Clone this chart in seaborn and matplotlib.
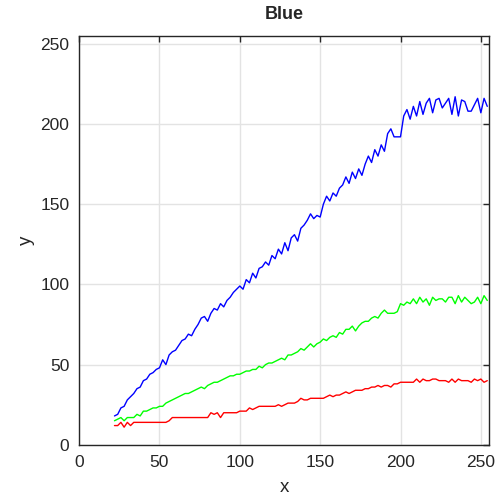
import matplotlib
matplotlib.use("Agg")
import matplotlib.pyplot as plt
import seaborn as sns

# x positions of the samples
x = list(range(22, 256, 2))

blue = [18, 19, 23, 24, 28, 30, 32, 35, 36, 40,
        41, 44, 45, 47, 48, 53, 50, 56, 58, 59,
        62, 65, 66, 69, 68, 72, 75, 79, 80, 77,
        82, 85, 84, 88, 86, 90, 92, 95, 97, 99,
        97, 103, 101, 107, 104, 110, 111, 114, 112, 118,
        116, 122, 119, 126, 121, 129, 131, 127, 135, 137,
        140, 144, 141, 143, 142, 150, 155, 152, 157, 155,
        160, 162, 167, 163, 170, 166, 172, 168, 175, 180,
        176, 184, 180, 187, 183, 194, 197, 192, 192, 192,
        205, 209, 203, 211, 205, 214, 206, 213, 216, 207,
        215, 216, 210, 213, 216, 206, 217, 205, 215, 214,
        208, 208, 212, 216, 207, 216, 211]

green = [15, 16, 17, 15, 17, 17, 17, 19, 18, 21,
         21, 22, 23, 23, 24, 24, 26, 27, 28, 29,
         30, 31, 32, 32, 33, 34, 35, 36, 35, 37,
         38, 39, 39, 40, 41, 42, 43, 43, 44, 44,
         45, 46, 46, 47, 47, 49, 48, 50, 51, 51,
         52, 53, 54, 53, 56, 56, 57, 58, 60, 59,
         61, 63, 61, 63, 64, 66, 65, 67, 68, 67,
         70, 69, 72, 72, 74, 71, 74, 76, 77, 77,
         79, 80, 79, 82, 84, 82, 82, 82, 83, 88,
         87, 89, 88, 91, 88, 92, 89, 91, 87, 92,
         90, 91, 91, 89, 92, 92, 88, 93, 89, 92,
         90, 88, 89, 92, 88, 93, 90]

red = [12, 12, 14, 11, 14, 12, 14, 14, 14, 14,
       14, 14, 14, 14, 14, 14, 14, 15, 17, 17,
       17, 17, 17, 17, 17, 17, 17, 17, 17, 17,
       20, 19, 20, 17, 20, 20, 20, 20, 20, 21,
       21, 21, 23, 22, 23, 24, 24, 24, 24, 24,
       24, 25, 24, 25, 26, 26, 26, 27, 29, 28,
       28, 29, 29, 29, 29, 29, 30, 31, 30, 31,
       31, 32, 33, 32, 33, 34, 34, 34, 35, 35,
       36, 36, 37, 36, 37, 37, 36, 38, 38, 39,
       39, 39, 39, 39, 41, 39, 41, 40, 40, 41,
       41, 40, 40, 40, 39, 41, 39, 41, 40, 40,
       40, 39, 41, 40, 41, 39, 40]

ticks = [0, 50, 100, 150, 200, 250]

sns.set_style("white")
plt.rcParams["font.family"] = ["Liberation Sans", "DejaVu Sans"]

fig = plt.figure(figsize=(5.04, 4.97), dpi=100)
ax = fig.add_axes([0.157, 0.105, 0.813, 0.823])

sns.lineplot(x=x, y=blue, color="#0000ff", lw=1, ax=ax)
sns.lineplot(x=x, y=green, color="#00ff00", lw=1, ax=ax)
sns.lineplot(x=x, y=red, color="#ff0000", lw=1, ax=ax)

ax.set_xlim(0, 255)
ax.set_ylim(0, 255)
ax.set_xticks(ticks)
ax.set_yticks(ticks)
ax.grid(True, color="#e3e3e3", lw=1)
ax.set_axisbelow(True)
ax.tick_params(direction="in", top=True, right=True, length=4, width=1,
               labelsize=12.5, colors="#262626", pad=7)
for s in ax.spines.values():
    s.set_color("#262626")
    s.set_linewidth(1)

ax.set_title("Blue", fontsize=13, fontweight="bold", pad=12)
ax.set_xlabel("x", fontsize=13.5, color="#262626", labelpad=7)
ax.set_ylabel("y", fontsize=13.5, color="#262626", labelpad=4)

fig.savefig("out.png", dpi=100)
